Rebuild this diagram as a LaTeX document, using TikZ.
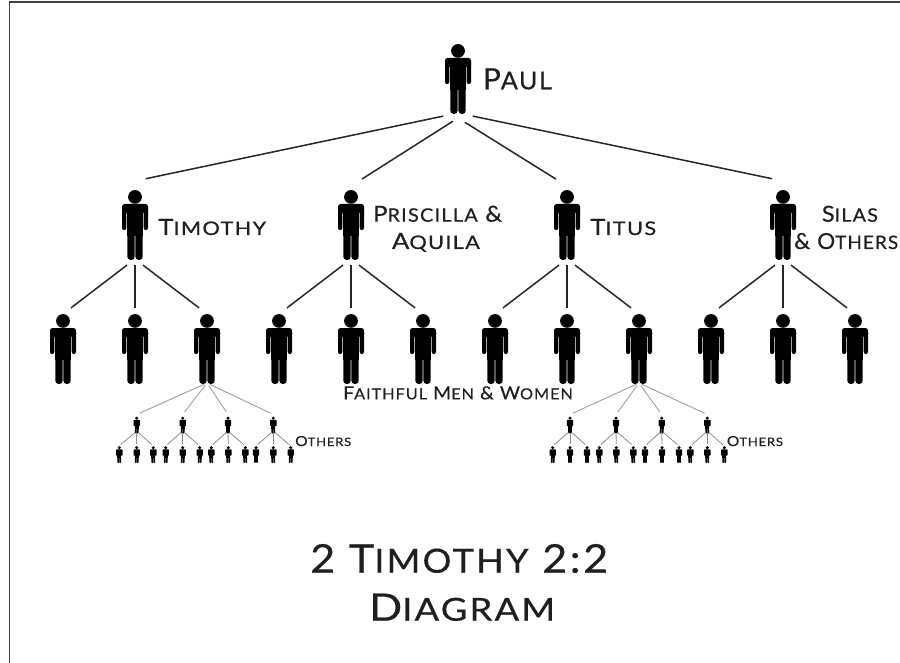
\documentclass[tikz,border=0pt]{standalone}
\usepackage{fontspec}
\setmainfont[LetterSpace=6,FakeBold=0.4]{Lato}
\newcommand{\SC}[2]{#1\scalebox{0.84}{#2}}
\newcommand{\fitlabel}[3]{\resizebox{#1pt}{#2pt}{#3}}
\tikzset{
  x=1pt,y=-1pt,
  person/.pic={
    \fill (0,6.9) circle (6.9);
    \fill[rounded corners=2.5] (-13,14) rectangle (13,23);
    \fill[rounded corners=2] (-13,17) rectangle (-8.7,40);
    \fill[rounded corners=2] (8.7,17) rectangle (13,40);
    \fill (-7.7,16) rectangle (7.7,46);
    \fill[rounded corners=3.4] (-7.7,40) rectangle (-0.35,70);
    \fill[rounded corners=3.4] (0.35,40) rectangle (7.7,70);
  },
  tinyperson/.pic={
    \fill (0,1.7) circle (1.7);
    \fill[rounded corners=0.6] (-3.2,3.4) rectangle (3.2,9.7);
    \fill (-1.9,3.6) rectangle (1.9,12);
    \fill[rounded corners=0.8] (-1.9,10) rectangle (-0.08,17);
    \fill[rounded corners=0.8] (0.08,10) rectangle (1.9,17);
  },
  bigspot/.style={inner sep=0,outer sep=0,minimum width=26,anchor=north},
  smallspot/.style={inner sep=0,outer sep=0,minimum width=7,anchor=north},
  labeltext/.style={inner sep=0,text=black!88,anchor=base west},
  linkA/.style={line width=1.5pt,black!85},
  linkB/.style={line width=0.9pt,black!38},
  linkC/.style={line width=0.8pt,black!45}
}
\newcommand{\bigman}[4]{\pic at (#2,#3) {person}; \node[bigspot,minimum height=69+#4] (#1) at (#2,#3-#4) {};}
\newcommand{\smallman}[4]{\pic at (#2,#3) {tinyperson}; \node[smallspot,minimum height=14.5+#4] (#1) at (#2,#3-#4) {};}
\begin{document}
\begin{tikzpicture}
\useasboundingbox (0,0) rectangle (900,663);
\draw[line width=1.2pt,black!75] (9.5,663) -- (9.5,2) -- (900,2);
\bigman{paul}{458}{44}{0}
\coordinate (paulinner) at ([yshift=-5pt]paul.south);
\bigman{tim}{135}{190}{9}
\bigman{pri}{351}{190}{4}
\bigman{tit}{567}{190}{4}
\bigman{sil}{783}{190}{9}
\foreach \n/\x in {a/63,b/135,c/207,d/279,e/351,f/423,g/495,h/567,i/639,j/711,k/783,l/855}{\bigman{m\n}{\x}{314}{0}}
\foreach \n/\x in {a/136.7,b/182.7,c/228,d/273.3}{\smallman{ls\n}{\x}{416.5}{2}}
\foreach \n/\x in {a/570,b/616,c/661.7,d/707.3}{\smallman{rs\n}{\x}{416.5}{2}}
\foreach \n/\x in {1/119.3,2/136.7,3/153.3,4/165.7,5/182.7,6/199.7,7/211.3,8/228.3,9/245.3,10/256,11/273.3,12/290.7}{\smallman{lt\n}{\x}{446}{0}}
\foreach \n/\x in {1/552.7,2/570,3/587,4/599.3,5/616.3,6/633.3,7/645,8/662,9/679,10/690.3,11/707.3,12/724.3}{\smallman{rt\n}{\x}{446}{0}}
% level 0-1
\draw[linkA,shorten <=15,shorten >=11] (paul.south) -- (tim.north);
\draw[linkA,shorten <=6,shorten >=13] (paulinner) -- (pri.north);
\draw[linkA,shorten <=8,shorten >=13] (paulinner) -- (tit.north);
\draw[linkA,shorten <=15,shorten >=11] (paul.south) -- (sil.north);
% level 1-2
\foreach \p/\a/\b/\c in {tim/ma/mb/mc,pri/md/me/mf,tit/mg/mh/mi,sil/mj/mk/ml}{
  \draw[linkA,shorten <=10,shorten >=10] (\p.south) -- (\a.north);
  \draw[linkA,shorten <=6,shorten >=6] (\p.south) -- (\b.north);
  \draw[linkA,shorten <=10,shorten >=10] (\p.south) -- (\c.north);
}
% level 2-3
\foreach \f/\p in {mc/ls,mi/rs}{
  \draw[linkB,shorten <=3,shorten >=3] (\f.south) -- (\p a.north);
  \draw[linkB,shorten <=3,shorten >=3] (\f.south) -- (\p b.north);
  \draw[linkB,shorten <=3,shorten >=3] (\f.south) -- (\p c.north);
  \draw[linkB,shorten <=3,shorten >=3] (\f.south) -- (\p d.north);
}
% level 3-4
\foreach \p/\q in {lsa/lt1,lsa/lt2,lsa/lt3,lsb/lt4,lsb/lt5,lsb/lt6,lsc/lt7,lsc/lt8,lsc/lt9,lsd/lt10,lsd/lt11,lsd/lt12,rsa/rt1,rsa/rt2,rsa/rt3,rsb/rt4,rsb/rt5,rsb/rt6,rsc/rt7,rsc/rt8,rsc/rt9,rsd/rt10,rsd/rt11,rsd/rt12}
  \draw[linkC,shorten <=2,shorten >=2] (\p.south) -- (\q.north);
% labels
\node[labeltext] (lpaul) at (482.7,89.3) {\fitlabel{69}{21}{\SC{P}{AUL}}};
\node[labeltext] (ltim) at (158,235) {\fitlabel{108}{16}{\SC{T}{IMOTHY}}};
\node[labeltext] (lpri) at (373,221.7) {\fitlabel{129}{16}{\SC{P}{RISCILLA} \&}};
\node[labeltext] (laq) at (391.7,249) {\fitlabel{88}{16}{\SC{A}{QUILA}}};
\node[labeltext] (ltit) at (590,235) {\fitlabel{66}{16}{\SC{T}{ITUS}}};
\node[labeltext] (lsil) at (821.7,221.7) {\fitlabel{56}{16}{\SC{S}{ILAS}}};
\node[labeltext] (loth) at (794,249) {\fitlabel{104}{16}{\& \SC{O}{THERS}}};
\node[labeltext] (lfai) at (343,399.3) {\fitlabel{229.7}{13}{\SC{F}{AITHFUL} \SC{M}{EN} \& \SC{W}{OMEN}}};
\node[labeltext] (lo1) at (295,446) {\fitlabel{56}{10}{\SC{O}{THERS}}};
\node[labeltext] (lo2) at (726.7,446) {\fitlabel{56}{10}{\SC{O}{THERS}}};
\node[labeltext] (ttl) at (310,572.7) {\fitlabel{298}{28.7}{2 \SC{T}{IMOTHY} 2:2}};
\node[labeltext] (tdg) at (369,620.7) {\fitlabel{186}{27}{\SC{D}{IAGRAM}}};
\end{tikzpicture}
\end{document}
